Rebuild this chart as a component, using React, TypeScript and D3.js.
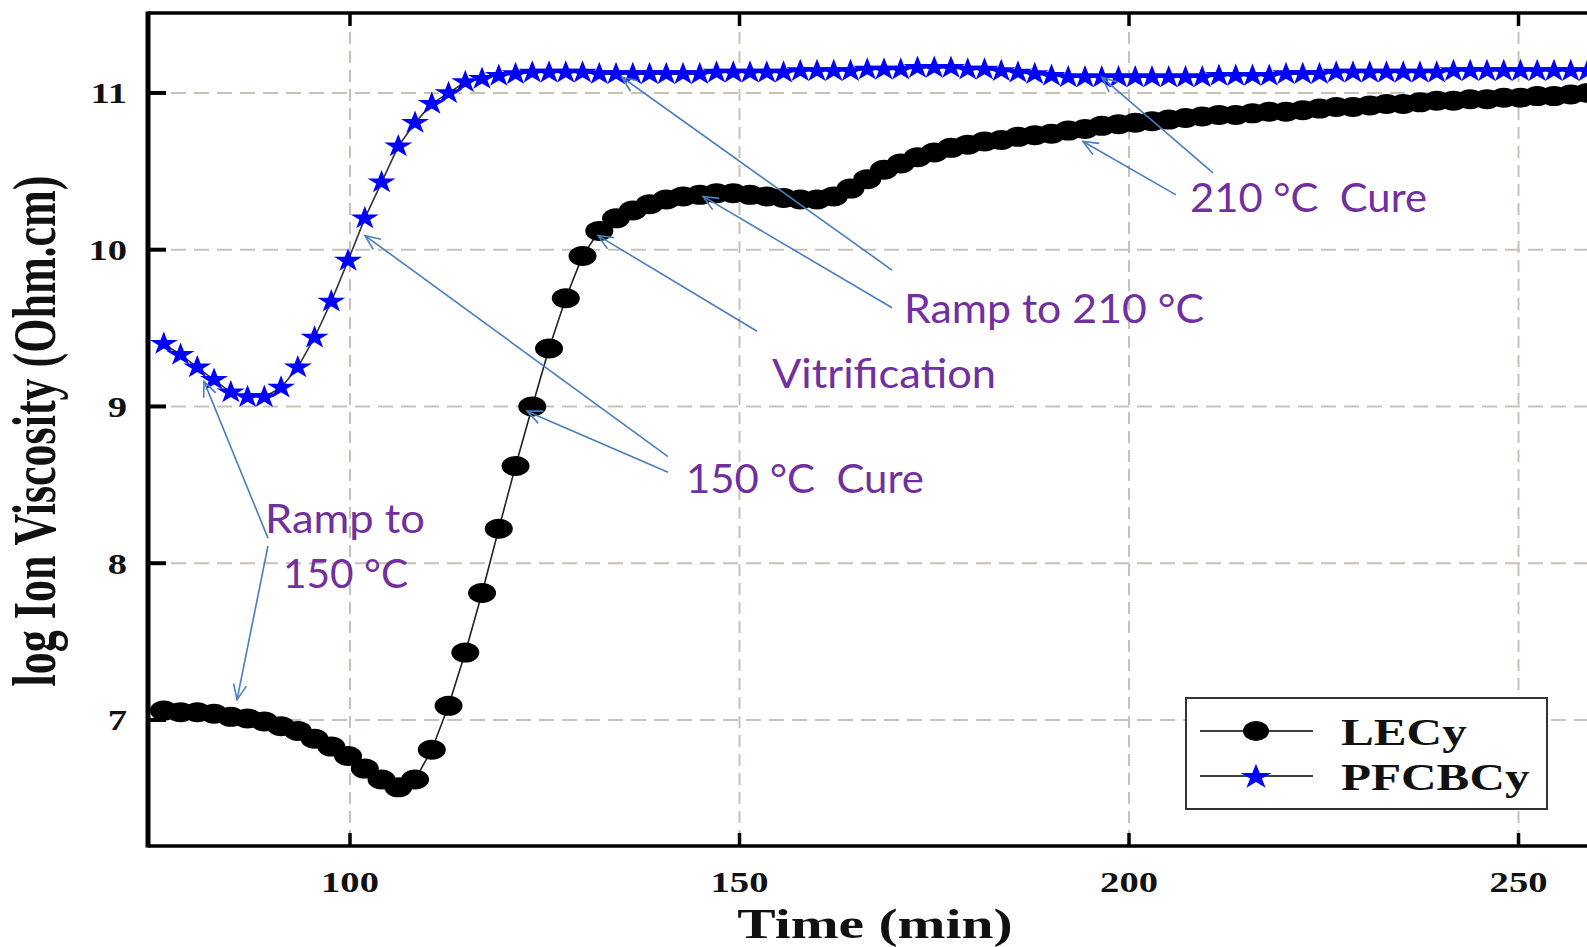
import React, { useEffect, useRef } from 'react';
import * as d3 from 'd3';

// sampling times (min)
const TIME = [
  76.1, 78.25, 80.4, 82.55, 84.7, 86.85, 89.0, 91.15, 93.3, 95.45,
  97.6, 99.75, 101.9, 104.05, 106.2, 108.35, 110.5, 112.65, 114.8, 116.95,
  119.1, 121.25, 123.4, 125.55, 127.7, 129.85, 132.0, 134.15, 136.3, 138.45,
  140.6, 142.75, 144.9, 147.05, 149.2, 151.35, 153.5, 155.65, 157.8, 159.95,
  162.1, 164.25, 166.4, 168.55, 170.7, 172.85, 175.0, 177.15, 179.3, 181.45,
  183.6, 185.75, 187.9, 190.05, 192.2, 194.35, 196.5, 198.65, 200.8, 202.95,
  205.1, 207.25, 209.4, 211.55, 213.7, 215.85, 218.0, 220.15, 222.3, 224.45,
  226.6, 228.75, 230.9, 233.05, 235.2, 237.35, 239.5, 241.65, 243.8, 245.95,
  248.1, 250.25, 252.4, 254.55, 256.7, 258.85,
];

// log ion viscosity, LECy
const LECY = [
  7.06, 7.05, 7.05, 7.04, 7.02, 7.01, 6.99, 6.96, 6.93, 6.88,
  6.83, 6.77, 6.69, 6.62, 6.57, 6.62, 6.81, 7.09, 7.43, 7.81,
  8.22, 8.62, 9.0, 9.37, 9.69, 9.96, 10.12, 10.2, 10.25, 10.29,
  10.32, 10.34, 10.35, 10.36, 10.36, 10.35, 10.34, 10.33, 10.32, 10.32,
  10.34, 10.39, 10.45, 10.51, 10.55, 10.59, 10.62, 10.65, 10.67, 10.69,
  10.7, 10.72, 10.73, 10.74, 10.76, 10.77, 10.79, 10.8, 10.81, 10.82,
  10.83, 10.84, 10.85, 10.86, 10.86, 10.87, 10.88, 10.88, 10.89, 10.9,
  10.91, 10.91, 10.92, 10.93, 10.93, 10.94, 10.95, 10.95, 10.96, 10.96,
  10.97, 10.97, 10.98, 10.98, 10.99, 11.0,
];

// log ion viscosity, PFCBCy
const PFCBCY = [
  9.4, 9.33, 9.25, 9.17, 9.09, 9.06, 9.06, 9.12, 9.25, 9.44,
  9.67, 9.93, 10.2, 10.43, 10.66, 10.81, 10.93, 11.0, 11.07, 11.09,
  11.11, 11.12, 11.13, 11.13, 11.13, 11.13, 11.12, 11.12, 11.12, 11.12,
  11.12, 11.12, 11.12, 11.13, 11.13, 11.13, 11.13, 11.13, 11.14, 11.14,
  11.14, 11.14, 11.15, 11.15, 11.15, 11.16, 11.16, 11.16, 11.15, 11.15,
  11.14, 11.13, 11.12, 11.11, 11.1, 11.1, 11.1, 11.1, 11.1, 11.1,
  11.1, 11.1, 11.1, 11.11, 11.11, 11.11, 11.11, 11.12, 11.12, 11.12,
  11.13, 11.13, 11.13, 11.13, 11.13, 11.13, 11.13, 11.14, 11.14, 11.14,
  11.14, 11.14, 11.14, 11.14, 11.14, 11.14,
];

const X_TICKS = [100, 150, 200, 250];
const Y_TICKS = [7, 8, 9, 10, 11];
const SERIES_NAMES = ['LECy', 'PFCBCy'];

// annotation texts, anchored at (time, value) of their left baseline
const NOTE_TEXT = ['Ramp to', '150 °C', '150 °C  Cure', 'Vitrification', 'Ramp to 210 °C', '210 °C  Cure'];
const NOTE_T = [89.09, 91.4, 143.13, 154.17, 171.12, 207.83];
const NOTE_V = [8.19, 7.84, 8.45, 9.12, 9.53, 10.24];
const NOTE_W = [160, 125, 238, 224, 300, 237];

// arrows: [fromT, fromV, toT, toV]
const ARROWS = [
  [89.47, 8.16, 81.26, 9.16],
  [89.47, 8.11, 85.5, 7.13],
  [140.82, 8.68, 101.93, 10.09],
  [140.82, 8.58, 122.72, 8.97],
  [152.25, 9.48, 131.84, 10.09],
  [169.58, 9.87, 134.92, 11.1],
  [169.58, 9.63, 145.32, 10.34],
  [210.78, 10.49, 196.53, 11.1],
  [206.03, 10.35, 194.1, 10.69],
];

const W = 1587;
const H = 947;
const SERIF = '"Liberation Serif", "Times New Roman", serif';
const SANS = 'Lato, "Open Sans", sans-serif';

export default function App() {
  const ref = useRef<SVGSVGElement>(null);

  useEffect(() => {
    const svg = d3.select(ref.current);
    svg.selectAll('*').remove();

    const x = d3.scaleLinear().domain([74.07, 262]).range([148, 1612]);
    const y = d3.scaleLinear().domain([6.196, 11.51]).range([846, 13]);
    const [left, right] = x.range();
    const [bottom, top] = y.range();

    svg.append('rect').attr('width', W).attr('height', H).attr('fill', '#fff');

    const defs = svg.append('defs');
    defs
      .append('marker')
      .attr('id', 'ah')
      .attr('viewBox', '-1 -8 18 16')
      .attr('refX', 15)
      .attr('refY', 0)
      .attr('markerWidth', 18)
      .attr('markerHeight', 16)
      .attr('markerUnits', 'userSpaceOnUse')
      .attr('orient', 'auto')
      .append('path')
      .attr('d', 'M0,-6.5L15,0L0,6.5')
      .attr('fill', 'none')
      .attr('stroke', '#4a7ebb')
      .attr('stroke-width', 1.6);

    // grid
    const grid = svg.append('g').attr('stroke', '#c9c1b9').attr('stroke-width', 2);
    grid
      .selectAll('line.gv')
      .data(X_TICKS)
      .join('line')
      .attr('class', 'gv')
      .attr('x1', d => x(d))
      .attr('x2', d => x(d))
      .attr('y1', top)
      .attr('y2', bottom)
      .attr('stroke-dasharray', '12 7');
    grid
      .selectAll('line.gh')
      .data(Y_TICKS)
      .join('line')
      .attr('class', 'gh')
      .attr('x1', left)
      .attr('x2', right)
      .attr('y1', d => y(d))
      .attr('y2', d => y(d))
      .attr('stroke-dasharray', '15 8');

    // frame + ticks
    const axes = svg.append('g').attr('stroke', '#000');
    axes.append('line').attr('x1', left).attr('x2', right).attr('y1', top).attr('y2', top).attr('stroke-width', 3.5);
    axes.append('line').attr('x1', left).attr('x2', right).attr('y1', bottom).attr('y2', bottom).attr('stroke-width', 3.5);
    axes.append('line').attr('x1', left).attr('x2', left).attr('y1', top - 1.5).attr('y2', bottom + 1.5).attr('stroke-width', 5);
    axes
      .selectAll('line.ty')
      .data(Y_TICKS)
      .join('line')
      .attr('class', 'ty')
      .attr('x1', left)
      .attr('x2', left + 18)
      .attr('y1', d => y(d))
      .attr('y2', d => y(d))
      .attr('stroke-width', 4);
    axes
      .selectAll('line.tb')
      .data(X_TICKS)
      .join('line')
      .attr('class', 'tb')
      .attr('x1', d => x(d))
      .attr('x2', d => x(d))
      .attr('y1', bottom)
      .attr('y2', bottom - 13)
      .attr('stroke-width', 3.5);
    axes
      .selectAll('line.tt')
      .data(X_TICKS)
      .join('line')
      .attr('class', 'tt')
      .attr('x1', d => x(d))
      .attr('x2', d => x(d))
      .attr('y1', top)
      .attr('y2', top + 13)
      .attr('stroke-width', 3.5);

    const stretched = (px: number, py: number, txt: string, size: number, anchor: string, sx: number, rot = 0) => {
      svg
        .append('g')
        .attr('transform', `translate(${px},${py}) scale(${sx},1) rotate(${rot})`)
        .append('text')
        .attr('text-anchor', anchor)
        .attr('font-family', SERIF)
        .attr('font-weight', 'bold')
        .attr('font-size', size)
        .attr('fill', '#111')
        .text(txt);
    };

    X_TICKS.forEach(d => stretched(x(d), 892, String(d), 29, 'middle', 1.33));
    Y_TICKS.forEach(d => stretched(127, y(d) + 10.5, String(d), 29, 'end', 1.33));
    stretched(875, 938, 'Time (min)', 42, 'middle', 1.37);
    stretched(55, 431, 'log Ion Viscosity (Ohm.cm)', 44, 'middle', 1.38, -90);

    // series lines
    const line = d3
      .line<number>()
      .x((_, i) => x(TIME[i]))
      .y(d => y(d));
    svg.append('path').attr('d', line(LECY)).attr('fill', 'none').attr('stroke', '#222').attr('stroke-width', 1.6);
    svg.append('path').attr('d', line(PFCBCY)).attr('fill', 'none').attr('stroke', '#333').attr('stroke-width', 1.6);

    const star = d3.symbol().type(d3.symbolStar).size(170)();

    svg
      .append('g')
      .selectAll('ellipse')
      .data(LECY)
      .join('ellipse')
      .attr('cx', (_, i) => x(TIME[i]))
      .attr('cy', d => y(d))
      .attr('rx', 14)
      .attr('ry', 10)
      .attr('fill', '#000');

    svg
      .append('g')
      .selectAll('path')
      .data(PFCBCY)
      .join('path')
      .attr('d', star)
      .attr('transform', (d, i) => `translate(${x(TIME[i])},${y(d)}) scale(1.2,1)`)
      .attr('fill', '#0000ff');

    // legend
    const lg = svg.append('g');
    lg.append('rect')
      .attr('x', 1186)
      .attr('y', 698)
      .attr('width', 361)
      .attr('height', 111)
      .attr('fill', '#fff')
      .attr('stroke', '#333')
      .attr('stroke-width', 2);
    SERIES_NAMES.forEach((name, i) => {
      const ly = 731 + i * 45;
      lg.append('line').attr('x1', 1200).attr('x2', 1313).attr('y1', ly).attr('y2', ly).attr('stroke', '#000').attr('stroke-width', 1.6);
      if (i === 0) {
        lg.append('ellipse').attr('cx', 1256).attr('cy', ly).attr('rx', 13).attr('ry', 10).attr('fill', '#000');
      } else {
        lg.append('path')
          .attr('d', d3.symbol().type(d3.symbolStar).size(200)())
          .attr('transform', `translate(1256,${ly + 1}) scale(1.22,1)`)
          .attr('fill', '#0000ff');
      }
      stretched(1341, ly + 14, name, 37, 'start', 1.33);
    });

    // annotations
    const notes = svg.append('g');
    ARROWS.forEach(([t0, v0, t1, v1]) => {
      notes
        .append('line')
        .attr('x1', x(t0))
        .attr('y1', y(v0))
        .attr('x2', x(t1))
        .attr('y2', y(v1))
        .attr('stroke', '#4a7ebb')
        .attr('stroke-width', 1.6)
        .attr('marker-end', 'url(#ah)');
    });
    NOTE_TEXT.forEach((txt, i) => {
      notes
        .append('text')
        .attr('x', x(NOTE_T[i]))
        .attr('y', y(NOTE_V[i]))
        .attr('font-family', SANS)
        .attr('font-size', 41)
        .attr('fill', '#7030a0')
        .attr('textLength', NOTE_W[i])
        .attr('lengthAdjust', 'spacingAndGlyphs')
        .style('white-space', 'pre')
        .text(txt);
    });
  }, []);

  return (
    <div style={{ position: 'absolute', left: 0, top: 0 }}>
      <svg ref={ref} width={W} height={H} style={{ display: 'block' }} />
    </div>
  );
}
